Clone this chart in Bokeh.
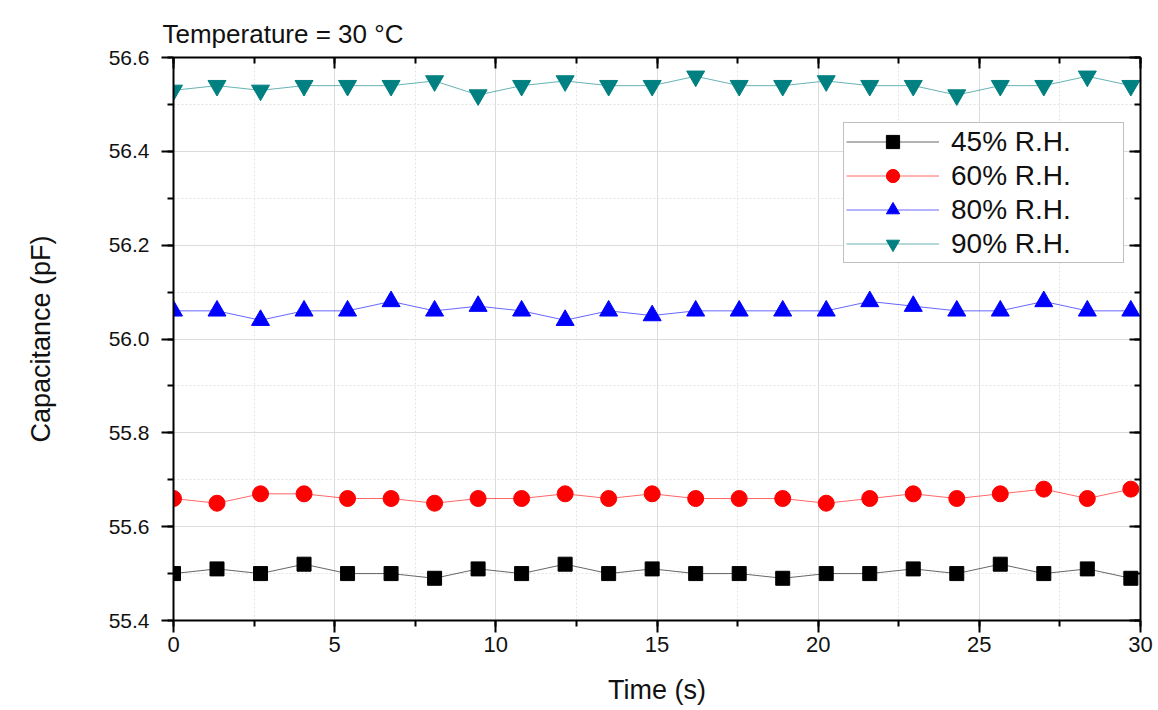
from bokeh.plotting import figure
from bokeh.models import LinearAxis, SingleIntervalTicker, Range1d, Legend, NumeralTickFormatter
from bokeh.embed import file_html
from bokeh.resources import INLINE

dt = 1.35
n = 23
time_s = [round(i * dt, 2) for i in range(n)]

rh45 = [55.50, 55.51, 55.50, 55.52, 55.50, 55.50, 55.49, 55.51, 55.50, 55.52, 55.50, 55.51,
        55.50, 55.50, 55.49, 55.50, 55.50, 55.51, 55.50, 55.52, 55.50, 55.51, 55.49]
rh60 = [55.66, 55.65, 55.67, 55.67, 55.66, 55.66, 55.65, 55.66, 55.66, 55.67, 55.66, 55.67,
        55.66, 55.66, 55.66, 55.65, 55.66, 55.67, 55.66, 55.67, 55.68, 55.66, 55.68]
rh80 = [56.06, 56.06, 56.04, 56.06, 56.06, 56.08, 56.06, 56.07, 56.06, 56.04, 56.06, 56.05,
        56.06, 56.06, 56.06, 56.06, 56.08, 56.07, 56.06, 56.06, 56.08, 56.06, 56.06]
rh90 = [56.53, 56.54, 56.53, 56.54, 56.54, 56.54, 56.55, 56.52, 56.54, 56.55, 56.54, 56.54,
        56.56, 56.54, 56.54, 56.55, 56.54, 56.54, 56.52, 56.54, 56.54, 56.56, 56.54]

series_labels = ["45% R.H.", "60% R.H.", "80% R.H.", "90% R.H."]
title_text = "Temperature = 30 °C"
x_label = "Time (s)"
y_label = "Capacitance (pF)"

FONT = "Liberation Sans"

p = figure(width=1158, height=710, output_backend="svg", toolbar_location=None,
           x_range=Range1d(0, 30), y_range=Range1d(55.4, 56.6),
           min_border_left=173, min_border_right=18, min_border_top=57, min_border_bottom=90,
           background_fill_color="white", border_fill_color="white")

p.title.text = title_text
p.title.text_font = FONT
p.title.text_font_size = "26px"
p.title.text_font_style = "normal"
p.title.text_color = "#111111"
p.title.align = "left"
p.title.offset = -11
p.title.standoff = 18

xt = SingleIntervalTicker(interval=5, num_minor_ticks=2)
yt = SingleIntervalTicker(interval=0.2, num_minor_ticks=2)

xa = p.xaxis[0]
xa.ticker = xt
ya = p.yaxis[0]
ya.ticker = yt
ya.formatter = NumeralTickFormatter(format="0.0")

for ax in (xa, ya):
    ax.axis_line_width = 2
    ax.axis_line_color = "black"
    ax.major_tick_line_width = 2
    ax.minor_tick_line_width = 2
    ax.major_tick_out = 12
    ax.major_tick_in = 0
    ax.minor_tick_out = 6
    ax.minor_tick_in = 0
    ax.major_label_text_font = FONT
    ax.major_label_text_color = "#111111"
    ax.axis_label_text_font = FONT
    ax.axis_label_text_font_style = "normal"
    ax.axis_label_text_color = "#111111"

xa.axis_label = x_label
xa.major_label_text_font_size = "22px"
xa.axis_label_text_font_size = "27px"
xa.major_label_standoff = 4
xa.axis_label_standoff = 20

ya.axis_label = y_label
ya.major_label_text_font_size = "21px"
ya.axis_label_text_font_size = "27px"
ya.major_label_standoff = 12
ya.axis_label_standoff = 50

top_ax = LinearAxis(ticker=SingleIntervalTicker(interval=5, num_minor_ticks=2))
right_ax = LinearAxis(ticker=SingleIntervalTicker(interval=0.2, num_minor_ticks=2))
for ax in (top_ax, right_ax):
    ax.axis_line_width = 2
    ax.axis_line_color = "black"
    ax.major_tick_line_width = 2
    ax.minor_tick_line_width = 2
    ax.major_tick_in = 11
    ax.major_tick_out = 0
    ax.minor_tick_in = 6
    ax.minor_tick_out = 0
    ax.major_label_text_font_size = "0px"
    ax.major_label_text_alpha = 0
    ax.major_label_standoff = 0
p.add_layout(top_ax, "above")
p.add_layout(right_ax, "right")

p.xgrid.ticker = xt
p.ygrid.ticker = yt
for g in (p.xgrid, p.ygrid):
    g.grid_line_color = "#dcdcdc"
    g.grid_line_width = 1
    g.minor_grid_line_color = "#e4e4e4"
    g.minor_grid_line_dash = "2 2"
    g.minor_grid_line_width = 1
p.outline_line_color = None

colors = ["black", "#ff0000", "#0000ff", "#008080"]
markers = ["square", "circle", "triangle", "inverted_triangle"]
sizes = [14, 16, 18, 18]
data = [rh45, rh60, rh80, rh90]

items = []
for ys, c, m, s, lab in zip(data, colors, markers, sizes, series_labels):
    r1 = p.line(time_s, ys, line_color=c, line_width=1, line_alpha=0.6)
    r2 = p.scatter(time_s, ys, marker=m, size=s, fill_color=c, line_color=c)
    items.append((lab, [r1, r2]))

legend = Legend(items=items, location=(670, 357))
legend.label_text_font = FONT
legend.label_text_font_size = "28px"
legend.label_text_color = "#111111"
legend.glyph_width = 93
legend.glyph_height = 33
legend.label_standoff = 12
legend.label_width = 170
legend.spacing = 1
legend.padding = 2
legend.margin = 0
legend.border_line_color = "#808080"
legend.border_line_width = 1.5
legend.background_fill_color = "white"
legend.background_fill_alpha = 1
p.add_layout(legend, "center")

open("out.html", "w").write(file_html(p, INLINE))
